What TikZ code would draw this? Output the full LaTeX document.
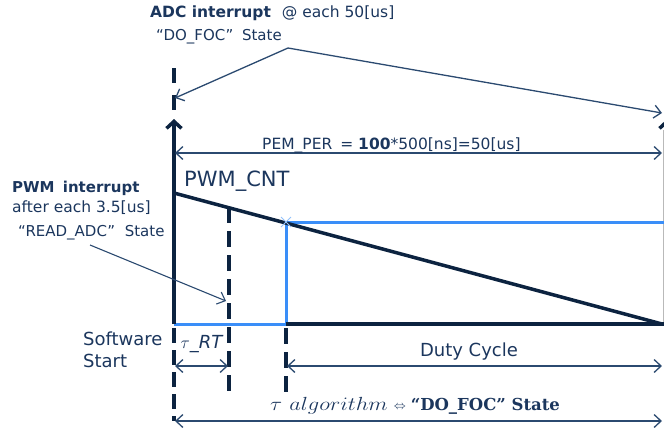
\documentclass[tikz,border=0pt]{standalone}
\usepackage{graphicx}
\usepackage{fontspec}
\setmainfont{DejaVu Sans}
\newfontfamily\serifbf{DejaVu Serif}
\usetikzlibrary{arrows.meta}
\definecolor{navy}{HTML}{0C2340}
\definecolor{txt}{HTML}{1B365D}
\definecolor{arr}{HTML}{2B4A70}
\definecolor{blu}{HTML}{3A8EF8}
\begin{document}
\begin{tikzpicture}[x=1pt,y=-1pt,
  lbl/.style={inner sep=0pt, anchor=west, text=txt, font=\fontsize{15.5}{17}\selectfont},
  barb/.tip={Straight Barb[length=7pt,width=13pt]},
  thinline/.style={draw=arr, line width=1.3pt},
  thickline/.style={draw=navy, line width=3.5pt},
  dashline/.style={draw=navy, line width=3.5pt, dash pattern=on 16pt off 8pt},
  axisarrow/.style={thickline, -{Straight Barb[length=7pt,width=15pt]}},
  bluline/.style={draw=blu, line width=3pt}]
\useasboundingbox (0,0) rectangle (664,432);
% coordinates
\coordinate (O) at (174,324);
\coordinate (Ytop) at (174,119);
\coordinate (DashTopA) at (174,68);
\coordinate (DashTopB) at (174,111);
\coordinate (Rb) at (662,324);
\coordinate (Rend) at (666,324);
\coordinate (RaxB) at (667,142);
\coordinate (RaxT) at (667,119);
\coordinate (GrayT) at (663,130);
\coordinate (GrayB) at (663,326);
\coordinate (Saw0) at (174,193);
\coordinate (D1) at (229,207);
\coordinate (D1b) at (229,397);
\coordinate (C) at (286,222);
\coordinate (Cb) at (286,324);
\coordinate (C2) at (286,328);
\coordinate (C2b) at (286,397);
\coordinate (Oa) at (174,328);
\coordinate (Ob) at (174,421);
\coordinate (BR) at (666,222);
\coordinate (P) at (288,48);
\coordinate (PL) at (175,98);
\coordinate (PR) at (662,113);
\coordinate (PemL) at (175,153);
\coordinate (PemR) at (662,153);
\coordinate (RaS) at (90,245);
\coordinate (RaE) at (226,301);
\coordinate (TrL) at (175,366);
\coordinate (TrR) at (228,366);
\coordinate (DcL) at (287,366);
\coordinate (DcR) at (662,366);
\coordinate (TaL) at (175,421);
\coordinate (TaR) at (662,421);

% thin gray right border line
\draw[gray!55, line width=0.8pt] (GrayT) -- (GrayB);
% blue PWM output
\draw[bluline] (O) -- (Cb) -- (C) -- (BR);
% bottom line
\draw[thickline] (Cb) -- (Rend);
% sawtooth
\draw[thickline] (Saw0) -- (Rb);
% axes
\draw[axisarrow] (O) -- (Ytop);
\draw[axisarrow] (RaxB) -- (RaxT);
\draw[dashline, dash pattern=on 15pt off 12pt] (DashTopA) -- (DashTopB);
% dashed verticals
\draw[dashline] (D1) -- (D1b);
\draw[dashline] (C2) -- (C2b);
\draw[dashline, dash pattern=on 15pt off 7pt] (Oa) -- (Ob);
% cross marker
\draw[blu!55, line width=0.9pt] (281,217) -- (291,227) (281,227) -- (291,217);

% thin arrows
\draw[thinline, -{barb}] (P) -- (PL);
\draw[thinline, -{barb}] (P) -- (PR);
\draw[thinline, {barb}-{barb}] (PemL) -- (PemR);
\draw[thinline, line width=1.1pt, -{barb}] (RaS) -- (RaE);
\draw[thinline, {barb}-{barb}] (TrL) -- (TrR);
\draw[thinline, {barb}-{barb}] (DcL) -- (DcR);
\draw[thinline, {barb}-{barb}] (TaL) -- (TaR);

% texts
\node[lbl] (adc) at (150,13) {\textbf{ADC interrupt}\hspace{6pt} @ each 50[us]};
\node[lbl, font=\fontsize{15}{17}\selectfont] (dofoc) at (156,37) {“DO\_FOC”\hspace{4pt} State};
\node[lbl] (pem) at (262,145) {PEM\_PER\hspace{3pt} = \textbf{100}*500[ns]=50[us]};
\node[lbl, font=\fontsize{21}{23}\selectfont] (cnt) at (184,181) {PWM\_CNT};
\node[lbl, font=\fontsize{15}{17}\selectfont] (pwmi) at (12,188) {\textbf{PWM\hspace{3pt} interrupt}};
\node[lbl] (after) at (12,208) {after each 3.5[us]};
\node[lbl, font=\fontsize{15}{17}\selectfont] (readadc) at (18,233) {“READ\_ADC”\hspace{5pt} State};
\node[lbl, font=\fontsize{18}{22}\selectfont, align=left] (sw) at (83,350) {Software\\Start};
\node[lbl, anchor=center, font=\fontsize{18}{20}\selectfont] (trt) at (202,344) {$\tau$\textit{\_RT}};
\node[lbl, anchor=center, font=\fontsize{18}{20}\selectfont] (duty) at (469,352) {Duty Cycle};
\node[lbl, font=\fontsize{17.28}{20}\selectfont] (talg) at (270,406) {\scalebox{1.3}[1.1]{$\tau\ algorithm$}\hspace{6pt}\raisebox{1pt}{$\scriptstyle\Leftrightarrow$}\hspace{5pt}{\serifbf\bfseries\fontsize{16.5}{19}\selectfont “DO\_FOC” State}};
\end{tikzpicture}
\end{document}
